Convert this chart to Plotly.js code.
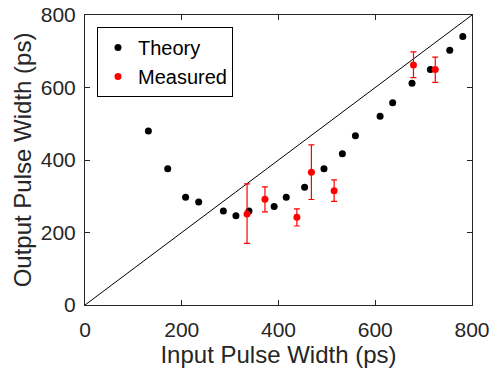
<!DOCTYPE html>
<html>
<head>
<meta charset="utf-8">
<script src="https://cdn.plot.ly/plotly-3.0.1.min.js"></script>
<style>html,body{margin:0;padding:0;background:#fff;}#chart{width:492px;height:370px;}</style>
</head>
<body>
<div id="chart"></div>
<script>
// Theory series
var theoryX = [131, 171, 208, 235, 286, 312, 339, 391, 416, 454, 494, 532, 559, 610, 636, 676, 714, 754, 781];
var theoryY = [480, 376, 297, 284, 259, 246, 259, 272, 297, 325, 376, 417, 467, 521, 558, 612, 650, 703, 741];
// Measured series with asymmetric error bars
var measX = [335, 372, 438, 468, 515, 679, 724];
var measY = [251, 292, 242, 366, 315, 662, 650];
var measErrPlus = [83, 34, 23, 76, 30, 36, 34];
var measErrMinus = [81, 35, 24, 75, 29, 35, 36];
// Reference line y = x
var refX = [0, 800];
var refY = [0, 800];
var tickVals = [0, 200, 400, 600, 800];

var fontFam = '"Liberation Sans", Arial, Helvetica, sans-serif';
var axisColor = '#262626';

var traces = [
  {x: refX, y: refY, mode: 'lines', line: {color: '#000', width: 1}, showlegend: false, hoverinfo: 'skip'},
  {x: theoryX, y: theoryY, mode: 'markers', name: 'Theory', marker: {color: '#000', size: 7}},
  {x: measX, y: measY, mode: 'markers', name: 'Measured', marker: {color: '#ff0000', size: 7},
   error_y: {type: 'data', symmetric: false, array: measErrPlus, arrayminus: measErrMinus, color: '#ff0000', thickness: 1.2, width: 3}}
];

var axisCommon = {
  range: [0, 800], tickvals: tickVals, ticks: 'inside', ticklen: 5, tickcolor: axisColor,
  showline: true, linecolor: axisColor, linewidth: 1, mirror: 'ticks', showgrid: false, zeroline: false,
  tickfont: {family: fontFam, size: 21, color: axisColor}
};

var layout = {
  width: 492, height: 370,
  margin: {l: 85, r: 20, t: 15, b: 65},
  paper_bgcolor: '#fff', plot_bgcolor: '#fff',
  font: {family: fontFam, color: axisColor},
  xaxis: Object.assign({}, axisCommon, {ticklabelstandoff: 6, title: {text: 'Input Pulse Width (ps)', font: {family: fontFam, size: 24, color: axisColor}, standoff: 3}}),
  yaxis: Object.assign({}, axisCommon, {ticklabelstandoff: 4, title: {text: 'Output Pulse Width (ps)', font: {family: fontFam, size: 24, color: axisColor}, standoff: 2}}),
  legend: {x: 0.031, y: 0.959, xanchor: 'left', yanchor: 'top', bgcolor: '#fff', bordercolor: '#000', borderwidth: 1,
           entrywidth: 100, entrywidthmode: 'pixels',
           font: {family: fontFam, size: 20, color: '#000'}},
  showlegend: true
};

Plotly.newPlot('chart', traces, layout, {staticPlot: true, displayModeBar: false});
</script>
</body>
</html>
